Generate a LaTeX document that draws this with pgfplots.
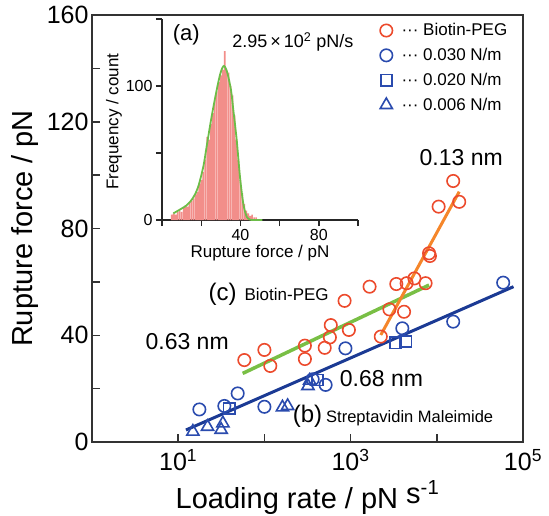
\documentclass[border=0pt]{standalone}
\usepackage{fontspec}
\setmainfont{Liberation Sans}
\usepackage{pgfplots}
\pgfplotsset{compat=1.18}
\usetikzlibrary{calc}
\definecolor{peg}{HTML}{EC4A2C}
\definecolor{smblue}{HTML}{2A4BAE}
\definecolor{fitblue}{HTML}{1B3A94}
\definecolor{fitgreen}{HTML}{79BF45}
\definecolor{fitorange}{HTML}{F5862A}
\definecolor{histred}{HTML}{F28E8A}
\definecolor{histgreen}{HTML}{6CBD48}

\begin{document}
\begin{tikzpicture}
\begin{axis}[
  scale only axis, width=431pt, height=427pt,
  at={(0pt,0pt)}, anchor=south west,
  xmode=log, xmin=1, xmax=1e5, ymin=0, ymax=160,
  xtick={10,100,1000,10000,100000},
  xticklabels={10\textsuperscript{1},,10\textsuperscript{3},,10\textsuperscript{5}},
  xminorticks=false,
  ytick={0,40,80,120,160},
  minor ytick={20,60,100,140},
  tick align=inside, tick pos=left,
  major tick length=8pt, minor tick length=8pt,
  axis line style={line width=1.8pt, black!80},
  every tick/.style={line width=1.5pt, black!80},
  tick label style={font=\fontsize{25}{25}\selectfont},
  xticklabel style={yshift=-4pt},
  /pgf/number format/assume math mode=true,
  xlabel={Loading rate / pN \raisebox{5pt}{s\textsuperscript{-1}}},
  ylabel={Rupture force / pN},
  label style={font=\fontsize{29}{29}\selectfont},
  xlabel style={at={(axis description cs:0.5,-0.155)}, anchor=base},
  ylabel style={at={(axis description cs:-0.139,0.5)}, anchor=base},
  legend style={at={(axis description cs:0.668,0.985)}, anchor=north west,
    draw=none, fill=none, font=\fontsize{17}{17}\selectfont,
    row sep=7pt, inner sep=0pt, cells={anchor=west}},
  legend image code/.code={\draw[mark repeat=2,mark phase=2] plot coordinates {(0pt,0pt) (7pt,0pt) (14pt,0pt)};},
]
\coordinate (msw) at (rel axis cs:0,0);
% fitted lines
\addplot[forget plot, fitblue, line width=3pt] coordinates {(12.3,4.5) (77600,58.2)};
\addplot[forget plot, fitgreen, line width=3.5pt] coordinates {(56,25.7) (8130,58.8)};
\addplot[forget plot, fitorange, line width=3pt] coordinates {(2240,40.1) (18200,93.8)};
% Biotin-PEG
\addplot[only marks, mark=o, mark size=6.2pt, peg, mark options={line width=1.6pt}] coordinates {
(58.5,30.7) (100,34.5) (117,28.5) (295,36.1) (295,31.1) (501,35.3) (575,39.2)
(589,43.8) (851,52.9) (955,42) (1660,58.2) (2240,39.5) (2820,49.7) (3390,59.2)
(4170,48.8) (4470,59.5) (5500,61.3) (7410,59.5) (8130,70.7) (8320,69.7)
(10500,88.2) (15500,97.8) (18200,90)};
% 0.030 N/m
\addplot[only marks, mark=o, mark size=6.2pt, smblue, mark options={line width=1.6pt}] coordinates {
(17.6,12.2) (34.3,13.5) (49,18.2) (100,13.2) (363,23.5) (513,21.4) (871,35.1)
(3980,42.6) (15500,45.1) (58900,59.7)};
% 0.020 N/m
\addplot[only marks, mark=square, mark size=5.6pt, smblue, mark options={line width=1.6pt}] coordinates {
(39,12.6) (412,23.2) (3310,37.2) (4370,37.6)};
% 0.006 N/m
\addplot[only marks, mark=triangle, mark size=7pt, smblue, mark options={line width=1.6pt}] coordinates {
(14.8,3.9) (21.9,5.7) (31.5,4.6) (33,7) (162,13) (186,13.5) (320,21) (335,23)};
\legend{\hspace{7pt}··· Biotin-PEG, \hspace{7pt}··· 0.030 N/m, \hspace{7pt}··· 0.020 N/m, \hspace{7pt}··· 0.006 N/m}
\node[font=\fontsize{23}{23}\selectfont] at (axis cs:19200,106.4) {0.13 nm};
\node[font=\fontsize{23}{23}\selectfont] at (axis cs:12.7,37.8) {0.63 nm};
\node[font=\fontsize{23}{23}\selectfont] at (axis cs:2280,23.6) {0.68 nm};
\node[anchor=west, inner sep=0pt] at (axis cs:22.4,55.5)
  {{\fontsize{24}{24}\selectfont (c)}\hspace{8pt}{\fontsize{17}{17}\selectfont Biotin-PEG}};
\node[anchor=west, inner sep=0pt] at (axis cs:213,9.7)
  {{\fontsize{24}{24}\selectfont (b)}\hspace{4pt}{\fontsize{16.5}{16.5}\selectfont Streptavidin Maleimide}};
\end{axis}

\begin{axis}[
  scale only axis, width=196pt, height=201pt,
  at={(70pt,222pt)}, anchor=south west,
  xmin=0, xmax=100, ymin=0, ymax=150,
  axis x line*=bottom, axis y line*=left,
  axis line style={-, line width=1.6pt, black!85},
  every tick/.style={line width=1.4pt, black!85},
  xtick={0,20,40,60,80,100}, xticklabels={,,40,,80,},
  ytick={0,50,100,150}, yticklabels={0,,100,},
  tick align=outside, major tick length=6pt,
  tick label style={font=\fontsize{16}{16}\selectfont},
  /pgf/number format/assume math mode=true,
  xlabel={Rupture force / pN}, ylabel={Frequency / count},
  label style={font=\fontsize{17}{17}\selectfont},
  xlabel style={at={(axis description cs:0.5,-0.164)}, anchor=center},
  ylabel style={at={(axis description cs:-0.245,0.49)}, anchor=center},
]
\addplot[ybar, bar width=0.82, bar shift=0pt, fill=histred, draw=none] coordinates {
(5,4) (6,5) (7,4) (8,6) (9,7) (10,6) (11,9) (12,11) (13,10) (14,13) (15,14)
(16,16) (17,19) (18,21) (19,27) (20,30) (21,36) (22,45) (23,62) (24,60) (25,72)
(26,80) (27,90) (28,96) (29,103) (30,108) (31,112) (32,126) (33,112) (34,110)
(35,100) (36,93) (37,78) (38,60) (39,45) (40,30) (41,20) (42,12) (43,7) (44,5)
(45,3) (46,4) (47,2) (48,2)};
\addplot[smooth, histgreen, line width=1.8pt, no marks] coordinates {
(5.8,5) (12.6,11) (16,17) (18.5,25) (21.1,40) (22.8,55) (25.3,77) (27.9,97)
(29.9,110) (31.6,115) (33.3,110) (35.2,97) (36.4,82) (38.1,60) (39.8,32)
(41.5,12) (43.2,2.5) (44.9,0.3) (47,0) (51.2,0)};
\node[font=\fontsize{22}{22}\selectfont] at (axis cs:12.4,138) {(a)};
\node[font=\fontsize{18}{18}\selectfont] at (axis cs:66.8,133) {2.95\,×\,10\textsuperscript{2} pN/s};
\end{axis}
\pgfresetboundingbox
\path[use as bounding box] ($(msw)+(-92pt,-73pt)$) rectangle ($(msw)+(457pt,442pt)$);
\end{tikzpicture}
\end{document}
